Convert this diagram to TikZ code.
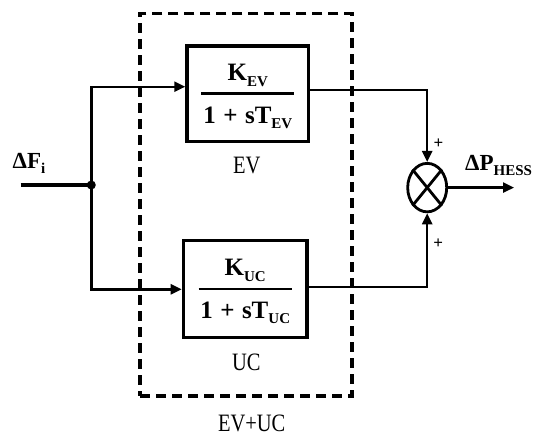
\documentclass[tikz,border=0pt]{standalone}
\usepackage{fontspec}
\setmainfont{Liberation Serif}
\newfontfamily\cnd[FakeStretch=0.82]{Liberation Serif}
\usetikzlibrary{arrows.meta,shapes.geometric}
\newcommand\sbx[2]{\raisebox{-#1}{\fontsize{15}{16}\selectfont\bfseries #2}}
\newcommand\tfr[2]{\vbox{\hbox to 93pt{\hss\raisebox{0pt}[16pt][0pt]{#1}\hss}\kern12pt\hrule height 2.8pt\kern12pt\hbox to 93pt{\hss\raisebox{0pt}[16pt][0pt]{#2}\hss}}}
\begin{document}
\begin{tikzpicture}[x=1pt,y=-1pt,
  tfbox/.style={draw,line width=3.4pt,rectangle,inner sep=0pt,font=\fontsize{25}{28}\selectfont\bfseries},
  grpbox/.style={draw,line width=3.4pt,dash pattern=on 10pt off 6pt,rectangle,inner sep=0pt},
  sumnode/.style={draw,line width=2.8pt,ellipse,inner sep=0pt,minimum width=39pt,minimum height=48.5pt},
  conn/.style={line width=2.4pt},
  arr/.style={conn,-{Triangle[length=11pt,width=10pt]}},
  lbl/.style={inner sep=0pt,font=\fontsize{25}{26}\selectfont\cnd},
  sig/.style={inner sep=0pt,font=\fontsize{23}{24}\selectfont\bfseries},
  sgn/.style={inner sep=0pt,font=\fontsize{17}{18}\selectfont\bfseries}]
\useasboundingbox (0,0) rectangle (534,437);
% group box
\node[grpbox,minimum width=212pt,minimum height=382.4pt] (grp) at (246,204.6) {};
% blocks
\node[tfbox,minimum width=121.6pt,minimum height=95.6pt] (ev) at (247.8,93.8)
  {\tfr{K\sbx{6pt}{EV}}{1\hspace{0.3em}+\hspace{0.3em}sT\sbx{5.5pt}{EV}}};
\node[tfbox,minimum width=123.6pt,minimum height=97.2pt] (uc) at (245.2,289)
  {\tfr{K\sbx{6pt}{UC}}{1\hspace{0.3em}+\hspace{0.3em}sT\sbx{5.5pt}{UC}}};
% summing junction
\node[sumnode] (sum) at (427.2,187.6) {};
\draw[line width=2.8pt] (sum.north west) -- (sum.south east);
\draw[line width=2.8pt] (sum.north east) -- (sum.south west);
% junction and bends
\coordinate (in) at (20.7,185);
\coordinate (jn) at (91.3,185);
\fill (jn) circle (4.5pt);
\coordinate (tb) at (91.3,86.7);
\coordinate (bb) at (91.3,289.3);
\coordinate (evo) at (427.2,90);
\coordinate (uco) at (427.2,287);
\coordinate (out) at (514,187.6);
% connectors
\draw[line width=4pt] (in) -- (jn);
\draw[arr] (jn) -- (tb) -- (ev.west |- tb);
\draw[arr] (jn) -- (bb) -- (uc.west |- bb);
\draw[arr] (ev.east |- evo) -- (evo) -- (sum.north);
\draw[arr] (uc.east |- uco) -- (uco) -- (sum.south);
\draw[arr] (sum.east) -- (out);
% labels
\node[sig,anchor=base west] (dfi) at (12.5,168) {ΔF\sbx{5pt}{i}};
\node[sig,anchor=base west] (dph) at (465,170) {ΔP\sbx{5pt}{HESS}};
\node[sgn] (p1) at (438.5,143.5) {+};
\node[sgn] (p2) at (438.3,243.7) {+};
\node[lbl,anchor=base] (evl) at (246.7,173.3) {EV};
\node[lbl,anchor=base] (ucl) at (246.3,370) {UC};
\node[lbl,anchor=base] (grpl) at (251.7,431.5) {EV+UC};
\end{tikzpicture}
\end{document}
